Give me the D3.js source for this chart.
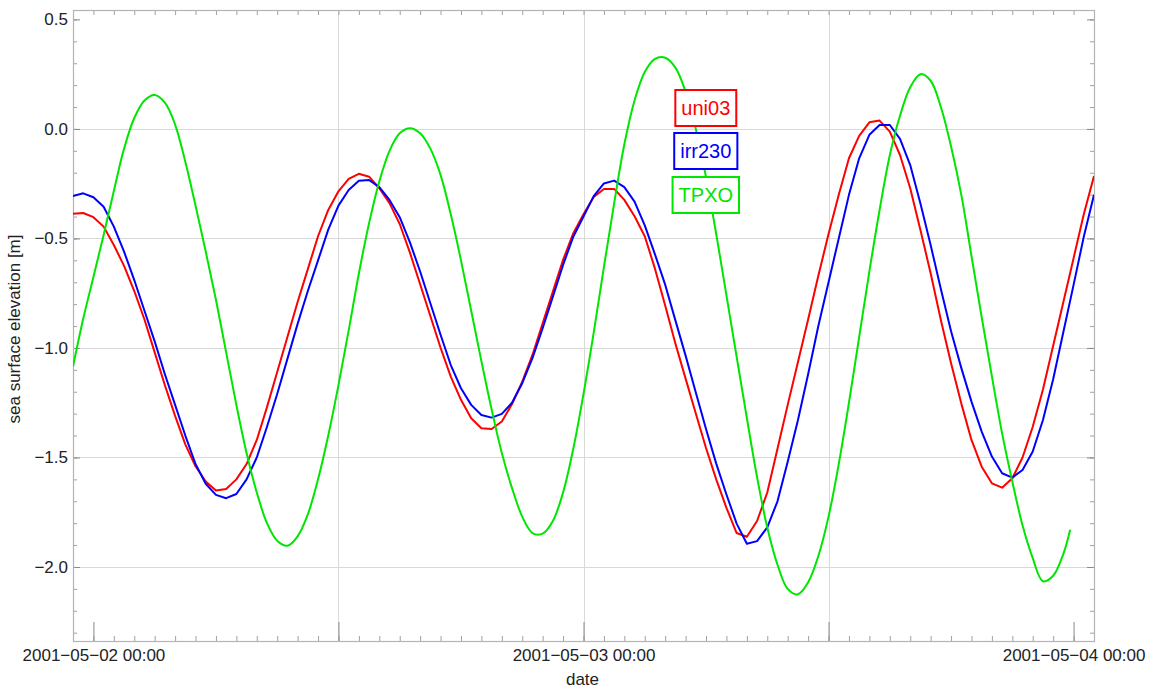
<!DOCTYPE html>
<html>
<head>
<meta charset="utf-8">
<script src="https://cdn.jsdelivr.net/npm/d3@7"></script>
<style>
  body { margin: 0; background: #fff; }
  text { font-family: "Liberation Sans", Arial, Helvetica, sans-serif; }
</style>
</head>
<body>
<svg id="chart" width="1150" height="689"></svg>
<script>
// Model output is stored every 30 minutes, starting at this instant (UTC).
const seriesStart = "2001-05-01T23:00:00Z";
const stepMinutes = 30;

// Sea surface elevation [m], half-hourly
const uni03 = [
  -0.387, -0.384, -0.403, -0.446, -0.530, -0.625, -0.740, -0.870, -1.020, -1.170,
  -1.310, -1.440, -1.540, -1.610, -1.651, -1.644, -1.600, -1.530, -1.420, -1.270,
  -1.110, -0.950, -0.790, -0.640, -0.490, -0.370, -0.285, -0.228, -0.205, -0.218,
  -0.271, -0.339, -0.434, -0.565, -0.709, -0.854, -0.999, -1.131, -1.237, -1.321,
  -1.367, -1.370, -1.336, -1.256, -1.154, -1.032, -0.887, -0.743, -0.598, -0.476,
  -0.390, -0.311, -0.274, -0.274, -0.324, -0.399, -0.490, -0.638, -0.806, -0.980,
  -1.140, -1.299, -1.457, -1.600, -1.730, -1.845, -1.862, -1.790, -1.660, -1.460,
  -1.260, -1.065, -0.870, -0.670, -0.480, -0.300, -0.134, -0.032,  0.030,  0.038,
  -0.012, -0.119, -0.271, -0.461, -0.659, -0.872, -1.070, -1.253, -1.420, -1.542,
  -1.618, -1.638, -1.595, -1.500, -1.360, -1.190, -0.990, -0.790, -0.590, -0.390,
  -0.215
];

const irr230 = [
  -0.306, -0.294, -0.312, -0.355, -0.446, -0.560, -0.690, -0.830, -0.970, -1.120,
  -1.260, -1.400, -1.530, -1.620, -1.671, -1.686, -1.667, -1.600, -1.500, -1.360,
  -1.210, -1.050, -0.890, -0.740, -0.600, -0.460, -0.350, -0.279, -0.237, -0.233,
  -0.266, -0.324, -0.403, -0.518, -0.651, -0.796, -0.940, -1.078, -1.184, -1.260,
  -1.306, -1.318, -1.301, -1.250, -1.161, -1.047, -0.910, -0.766, -0.621, -0.492,
  -0.400, -0.307, -0.249, -0.236, -0.266, -0.332, -0.440, -0.573, -0.711, -0.874,
  -1.035, -1.203, -1.370, -1.528, -1.669, -1.802, -1.894, -1.882, -1.819, -1.700,
  -1.520, -1.330, -1.120, -0.900, -0.700, -0.500, -0.301, -0.134, -0.027,  0.018,
   0.018, -0.045, -0.165, -0.340, -0.530, -0.731, -0.924, -1.091, -1.245, -1.382,
  -1.496, -1.572, -1.592, -1.557, -1.473, -1.329, -1.143, -0.927, -0.712, -0.492,
  -0.301
];

const tpxo = [
  -1.085, -0.867, -0.676, -0.484, -0.283, -0.090,  0.050,  0.130,  0.155,  0.120,
   0.020, -0.150, -0.350, -0.560, -0.780, -1.020, -1.260, -1.480, -1.660, -1.800,
  -1.880, -1.903, -1.860, -1.760, -1.600, -1.400, -1.170, -0.920, -0.660, -0.430,
  -0.240, -0.100, -0.020,  0.003, -0.020, -0.090, -0.210, -0.390, -0.600, -0.830,
  -1.060, -1.280, -1.480, -1.640, -1.770, -1.845, -1.848, -1.790, -1.660, -1.460,
  -1.210, -0.930, -0.630, -0.340, -0.070,  0.130,  0.260,  0.320,  0.325,  0.280,
   0.170,  0.000, -0.220, -0.480, -0.760, -1.040, -1.320, -1.590, -1.820, -1.990,
  -2.100, -2.125, -2.070, -1.950, -1.770, -1.530, -1.250, -0.950, -0.650, -0.370,
  -0.120,  0.060,  0.190,  0.250,  0.220,  0.100, -0.080, -0.300, -0.580, -0.860,
  -1.130, -1.390, -1.610, -1.810, -1.960, -2.065, -2.040, -1.940
];
// last TPXO sample of the record
const tpxoLast = ["2001-05-03T23:50:00Z", -1.830];

const seriesNames = ["uni03", "irr230", "TPXO"];
const seriesColors = ["#ff0000", "#0000ff", "#00e600"];

const xDomain = ["2001-05-01T23:00:00Z", "2001-05-04T01:00:00Z"];
const yDomain = [-2.338, 0.543];
const yTickValues = [0.5, 0.0, -0.5, -1.0, -1.5, -2.0];
const yGridValues = [0.0, -0.5, -1.0, -1.5, -2.0];
const xGridValues = ["2001-05-02T12:00:00Z", "2001-05-03T00:00:00Z", "2001-05-03T12:00:00Z"];
const xLabel = "date";
const yLabel = "sea surface elevation [m]";

// ---------------------------------------------------------------------------
const frame = { left: 73, right: 1094, top: 10, bottom: 641 };
const svg = d3.select("#chart");

const x = d3.scaleUtc()
  .domain(xDomain.map(d => new Date(d)))
  .range([frame.left, frame.right]);
const y = d3.scaleLinear()
  .domain(yDomain)
  .range([frame.bottom, frame.top]);

const t0 = new Date(seriesStart);
const timeAt = i => d3.utcMinute.offset(t0, i * stepMinutes);
const toPoints = arr => arr.map((v, i) => [timeAt(i), v]);

const series = [
  toPoints(uni03),
  toPoints(irr230),
  toPoints(tpxo).concat([[new Date(tpxoLast[0]), tpxoLast[1]]])
];

// grid
const grid = svg.append("g").attr("stroke", "#d9d9d9").attr("stroke-width", 1);
grid.selectAll("line.h").data(yGridValues).join("line")
  .attr("class", "h")
  .attr("x1", frame.left).attr("x2", frame.right)
  .attr("y1", d => Math.round(y(d)) + 0.5).attr("y2", d => Math.round(y(d)) + 0.5);
grid.selectAll("line.v").data(xGridValues.map(d => new Date(d))).join("line")
  .attr("class", "v")
  .attr("y1", frame.top).attr("y2", frame.bottom)
  .attr("x1", d => Math.round(x(d)) + 0.5).attr("x2", d => Math.round(x(d)) + 0.5);

// ticks
const [d0, d1] = x.domain();
const hourTicks = d3.utcHour.range(d3.utcHour.offset(d0, 1), d1);
const halfDayTicks = d3.utcHour.every(12).range(d0, d1);
const yMinor = d3.range(-23, 6).map(i => i / 10);
const dateFmt = d3.utcFormat("%Y\u2212%m\u2212%d %H:%M");

function styleAxis(g, color) {
  g.select(".domain").remove();
  g.selectAll(".tick line").attr("stroke", color);
  g.selectAll(".tick text")
    .attr("fill", "#222")
    .style("font-size", "17px")
    .style("font-family", "'Liberation Sans', Arial, sans-serif");
}

svg.append("g").attr("transform", `translate(0,${frame.bottom})`)
  .call(d3.axisBottom(x).tickValues(hourTicks).tickSize(-5).tickFormat(""))
  .call(g => styleAxis(g, "#a0a0a0"));
svg.append("g").attr("transform", `translate(0,${frame.bottom})`)
  .call(d3.axisBottom(x).tickValues(halfDayTicks).tickSize(-19).tickPadding(7.5)
    .tickFormat(d => d.getUTCHours() === 0 ? dateFmt(d) : ""))
  .call(g => styleAxis(g, "#8a8a8a"));
svg.append("g").attr("transform", `translate(0,${frame.top})`)
  .call(d3.axisTop(x).tickValues(hourTicks).tickSize(-5).tickFormat(""))
  .call(g => styleAxis(g, "#a0a0a0"));

svg.append("g").attr("transform", `translate(${frame.left},0)`)
  .call(d3.axisLeft(y).tickValues(yMinor).tickSize(-4).tickFormat(""))
  .call(g => styleAxis(g, "#a0a0a0"));
svg.append("g").attr("transform", `translate(${frame.left},0)`)
  .call(d3.axisLeft(y).tickValues(yTickValues).tickSize(-7).tickPadding(5)
    .tickFormat(d3.format(".1f")))
  .call(g => styleAxis(g, "#8a8a8a"));
svg.append("g").attr("transform", `translate(${frame.right},0)`)
  .call(d3.axisRight(y).tickValues(yMinor).tickSize(-4).tickFormat(""))
  .call(g => styleAxis(g, "#a0a0a0"));
svg.append("g").attr("transform", `translate(${frame.right},0)`)
  .call(d3.axisRight(y).tickValues(yTickValues).tickSize(-7).tickFormat(""))
  .call(g => styleAxis(g, "#8a8a8a"));

// frame
svg.append("rect")
  .attr("x", frame.left + 0.5).attr("y", frame.top + 0.5)
  .attr("width", frame.right - frame.left).attr("height", frame.bottom - frame.top)
  .attr("fill", "none").attr("stroke", "#b4b4b4").attr("stroke-width", 1.2);

// series
svg.append("clipPath").attr("id", "plot-clip")
  .append("rect")
  .attr("x", frame.left).attr("y", frame.top)
  .attr("width", frame.right - frame.left).attr("height", frame.bottom - frame.top);

const linePlain = d3.line().x(d => x(d[0])).y(d => y(d[1]));
const lineSmooth = d3.line().x(d => x(d[0])).y(d => y(d[1])).curve(d3.curveCatmullRom.alpha(0.5));

const lines = svg.append("g").attr("clip-path", "url(#plot-clip)")
  .attr("fill", "none").attr("stroke-width", 2).attr("stroke-linejoin", "round");
series.forEach((pts, i) => {
  lines.append("path")
    .datum(pts)
    .attr("stroke", seriesColors[i])
    .attr("d", i === 2 ? lineSmooth : linePlain);
});

// axis titles
svg.append("text")
  .attr("x", (frame.left + frame.right) / 2 - 1).attr("y", 685)
  .attr("text-anchor", "middle").attr("fill", "#222")
  .style("font-size", "17px").text(xLabel);
svg.append("text")
  .attr("transform", `translate(19.5,329) rotate(-90)`)
  .attr("text-anchor", "middle").attr("fill", "#222")
  .style("font-size", "17px").text(yLabel);

// legend
const legend = svg.append("g").attr("transform", "translate(705.8,0)");
const legendTop = [90, 133, 177];
seriesNames.forEach((name, i) => {
  const g = legend.append("g").attr("transform", `translate(0,${legendTop[i]})`);
  const rect = g.append("rect");
  const label = g.append("text")
    .attr("x", 0).attr("y", 18).attr("dy", "0.35em")
    .attr("text-anchor", "middle")
    .attr("fill", seriesColors[i])
    .style("font-size", "20px")
    .text(name);
  const w = label.node().getComputedTextLength() + 12;
  rect.attr("x", -w / 2).attr("y", 0).attr("width", w).attr("height", 36)
    .attr("fill", "#fff").attr("stroke", seriesColors[i]).attr("stroke-width", 2);
});
</script>
</body>
</html>
